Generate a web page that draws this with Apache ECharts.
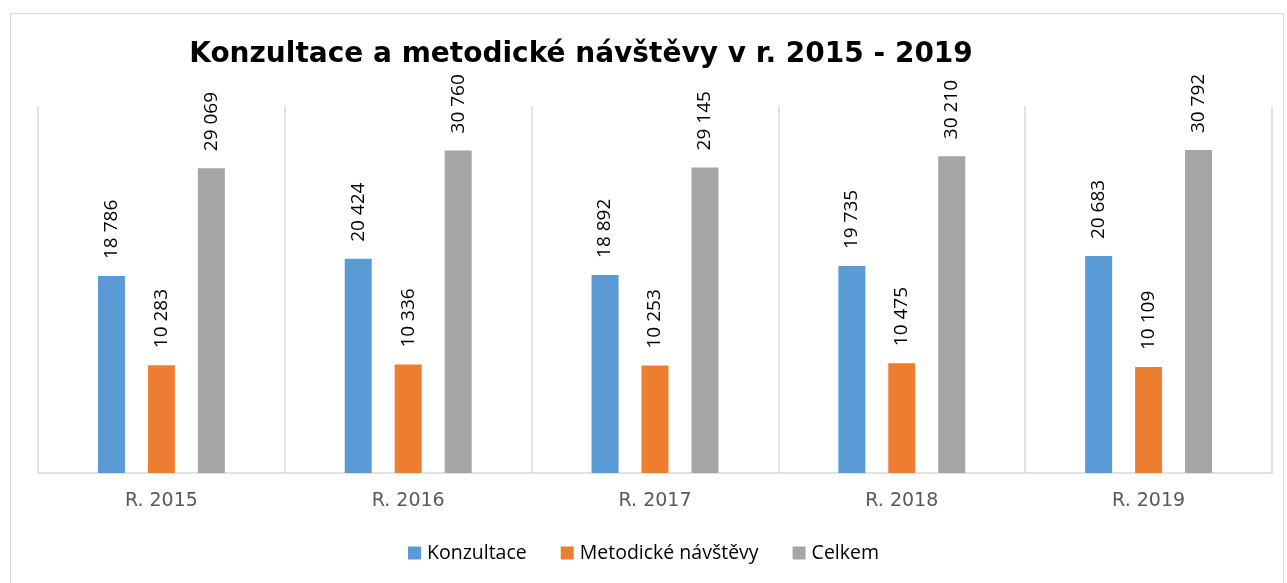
<!DOCTYPE html>
<html><head><meta charset="utf-8">
<script src="https://cdn.jsdelivr.net/npm/echarts@6/dist/echarts.min.js"></script>
<style>html,body{margin:0;padding:0;background:#fff}#c{width:1287px;height:583px}</style>
</head><body><div id="c"></div>
<script>
const categories = ['R. 2015','R. 2016','R. 2017','R. 2018','R. 2019'];
const konzultace = [18786, 20424, 18892, 19735, 20683];
const metodicke = [10283, 10336, 10253, 10475, 10109];
const celkem = [29069, 30760, 29145, 30210, 30792];
const seriesNames = ['Konzultace','Metodické návštěvy','Celkem'];
const titleText = 'Konzultace a metodické návštěvy v r. 2015 - 2019';

const fmt = v => String(v).replace(/\B(?=(\d{3})+(?!\d))/g, ' ');
const chart = echarts.init(document.getElementById('c'));
const lbl = {show:true, position:'top', rotate:90, align:'left', verticalAlign:'middle', distance:17,
  fontFamily:'Open Sans', fontSize:19, color:'#000', formatter:p=>fmt(p.value)};
const mk = (name, data, color) => ({name, type:'bar', data, barWidth:27, barGap:'85%',
  itemStyle:{color}, label:lbl, emphasis:{disabled:true}});
chart.setOption({
  animation:false,
  title:{text:titleText, left:576, top:36, textAlign:'center',
    textStyle:{fontFamily:'DejaVu Sans', fontWeight:'bold', fontSize:28, color:'#000'}},
  graphic:[{type:'rect', shape:{x:10.5,y:13.5,width:1273,height:600}, style:{fill:'none', stroke:'#d9d9d9', lineWidth:1}, silent:true}],
  legend:{bottom:15, left:'center', itemWidth:13, itemHeight:13, itemGap:34, icon:'rect',
    textStyle:{fontFamily:'Open Sans', fontSize:19.5, color:'#000', padding:[0,0,0,1]}, data:seriesNames},
  grid:{left:38, right:15, top:106, bottom:110, containLabel:false},
  xAxis:{type:'category', data:categories, axisTick:{show:false},
    axisLine:{lineStyle:{color:'#d9d9d9', width:1.5}},
    splitLine:{show:true, lineStyle:{color:'#d9d9d9', width:1.5}},
    axisLabel:{margin:19, fontFamily:'DejaVu Sans', fontSize:19, color:'#595959'}},
  yAxis:{type:'value', min:0, max:35000, interval:5000, show:false, splitLine:{show:false}},
  series:[mk(seriesNames[0], konzultace, '#5b9bd5'), mk(seriesNames[1], metodicke, '#ed7d31'), mk(seriesNames[2], celkem, '#a5a5a5')]
});
</script></body></html>
